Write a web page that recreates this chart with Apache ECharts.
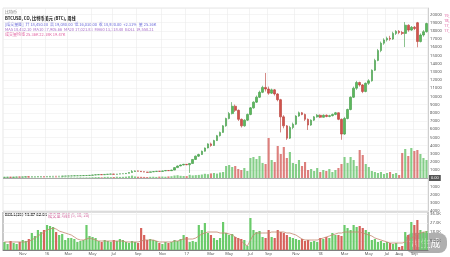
<!DOCTYPE html>
<html><head><meta charset="utf-8">
<script src="https://cdn.jsdelivr.net/npm/echarts@6/dist/echarts.min.js"></script>
<style>html,body{margin:0;padding:0;background:#fff}#c{width:450px;height:257px}</style>
</head><body><div id="c"></div>
<script>
// [open, close, low, high]
const ohlc = [
[110,120,100,130],[120,128,112,135],[128,122,115,134],[122,140,118,146],[140,150,135,158],
[150,145,138,156],[145,160,140,166],[160,172,155,178],[172,165,158,176],[165,182,160,188],
[182,190,176,196],[190,202,185,208],[202,210,196,216],[210,204,198,214],[204,222,200,228],
[222,232,215,238],[232,240,226,248],[240,236,228,246],[236,252,232,258],[252,262,246,270],
[262,270,255,278],[270,282,264,290],[282,290,275,298],[290,300,284,310],[300,312,294,320],
[312,320,305,330],[320,332,312,340],[332,340,325,352],[340,360,334,370],[360,400,350,420],
[400,420,390,440],[420,450,410,470],[450,430,415,460],[430,470,425,490],[470,500,460,520],
[500,520,490,540],[520,480,470,530],[480,510,470,525],[510,540,500,560],[540,560,530,580],
[560,600,550,640],[600,700,590,740],[700,820,690,1000],[820,900,800,960],[900,860,840,930],
[860,800,780,880],[800,760,740,820],[760,720,700,780],[720,780,700,800],[780,820,760,850],
[820,860,800,890],[860,840,820,880],[840,900,830,930],[900,950,880,980],[950,920,900,970],
[920,1000,910,1040],[1000,1300,980,1340],[1300,1500,1280,1560],[1500,1620,1470,1680],[1620,1700,1580,1760],
[1700,1650,1600,1740],[1650,1800,650,1850],[1800,2300,1780,2350],[2300,2700,2250,2780],[2700,2900,2600,3000],
[2900,3300,2850,3380],[3300,3700,3250,3760],[3700,4200,3650,4280],[4200,4000,3850,4350],[4000,4600,3950,4700],
[4600,5200,4550,5300],[5200,5600,5100,5700],[5600,6400,5550,6500],[6400,7300,6300,7400],[7300,7900,7200,8100],
[7900,8800,7800,9300],[8800,8300,8100,9000],[8300,7200,7000,8400],[7200,6400,6200,7300],[6400,7100,6300,7200],
[7100,7800,7000,7900],[7800,8600,7700,8700],[8600,9300,8500,9400],[9300,9900,9200,10100],[9900,10500,9800,10700],
[10500,11100,10400,11300],[11100,10900,10600,12860],[10900,10400,10200,11200],[10400,10800,10300,10950],[10800,10300,10100,10900],
[10300,9600,9400,10400],[9600,7500,5600,9700],[7500,6400,6100,7700],[6400,4900,4680,6500],[4900,6200,4800,6400],
[6200,6600,6000,6800],[6600,7600,6500,7700],[7600,8000,7500,8150],[8000,7800,7700,8100],[7800,7200,7000,7900],
[7200,6500,5900,7300],[6500,7100,6400,7200],[7100,7500,7000,7600],[7500,7700,7400,7850],[7700,7450,7350,7800],
[7450,7700,7400,7800],[7700,7550,7450,7800],[7550,7650,7450,7750],[7650,7800,7550,7900],[7800,8000,7700,8100],
[8000,7200,7100,8050],[7200,5400,4700,7300],[5400,7300,5300,7500],[7300,8400,7200,8500],[8400,9900,8300,10000],
[9900,11000,9800,11200],[11000,11700,10800,11900],[11700,11400,11200,11800],[11400,10600,10400,11500],[10600,11600,10500,11700],
[11600,11900,11400,12100],[11900,13200,11800,13300],[13200,14400,13100,14600],[14400,15600,14300,15800],[15600,16500,15400,16700],
[16500,16900,16300,17100],[16900,17100,16700,17300],[17100,17000,16800,17400],[17000,17700,16900,17900],[17700,17950,17500,18100],
[17950,17800,17600,18100],[17800,17700,17500,18000],[17700,18700,16030,19080],[18700,18100,17900,18800],[18100,18450,18000,18600],
[18450,18300,18100,18600],[19000,16700,16000,19100],[16700,17500,16600,17700],[17500,17900,17300,18100],[17900,18900,17800,19000]
];
const mainVolume = [
0.2,0.3,0.2,0.3,0.3,0.2,0.3,0.4,0.3,0.3,0.4,0.3,0.4,0.4,0.3,0.4,0.5,0.4,0.4,0.5,0.4,0.5,0.5,0.4,0.5,0.6,0.5,0.6,0.6,
0.8,0.9,1.0,0.7,1.1,1.2,0.9,1.0,1.3,1.1,1.2,1.4,1.8,2.4,1.6,1.3,1.2,
1.1,1.0,1.2,1.3,1.1,1.4,1.5,1.3,1.6,1.8,2.5,2.8,2.2,2.0,1.9,3.2,2.6,2.9,3.1,
3.5,4.2,3.8,4.6,5.0,4.4,5.5,6.0,
12,13,11,12, 9,8,10,7, 20,21,19,22, 15,14, 40, 18,16,
32,24,31,20,26,15,14,18,12,16,
8,9,7,10,6,8,7,9,6,8,10,
14,21,15,21,18,12,28,23,14,11,
7,6,5,6,4,5,6,4,5,3,
25,29,22,30,27,28,24,20,18
];
const subBars = [
8,6,9,7,6,8,10,9,11,17,14,20,18,20,25,24,23,18,15,16,10,12,12,11,8,9,10,25,14,13,12,
9,8,10,9,8,10,9,11,10,8,7,9,8,7,22,15,10,11,10,9,7,6,8,7,8,10,9,11,15,13,8,9,8,
25,20,27,17,15,12,10,12,28,17,15,16,13,12,11,10,4,32,20,18,19,13,12,20,13,12,20,18,17,15,
13,12,11,10,11,9,10,8,9,8,12,11,13,12,17,15,15,14,25,22,20,25,23,24,22,20,18,10,11,
8,9,7,8,7,6,7,3,4,18,15,28,25,30,20,18,19
];
const subLine = [
8,8,8,8,8,8,8,8,9, 10,12,14,16, 18,20,21,22, 21,19,18,17, 16,15,13,11,10, 10,11,12,11,10,
9,9,9,9,9,9,9,9,9,8,8,8,8,8,9, 10,10,10,10,9, 8,8,8,8,8,9,9,10,11,11, 11,11,12,14,16,
17,18,18,18,18,17,17, 17,16,15,13,11,9,6,4, 10,15,17,17, 17,17,17,18,18,18,18,18,17,17,16,
15,13,11,10,10,10,10,10, 11,12,13,14,15,16,17, 17,18,18,18,18,18,18,17,16,15,
14,12,11,10,9,8,7,7,7,7, 7,8,10,12,14,16,17,18,18
];
const tickIndex = [6,14,21,29,36,44,52,60,68,74,81,87,96,104,112,120,126,130,135];
const tickLabels = ['Nov','16','Mar','May','Jul','Sep','Nov','17','Mar','May','Jul','Sep','Nov','18','Mar','May','Jul','Aug','Sep'];
const priceTags = [8340, 7970, 7600];
const priceTagText = ['8,342.10','7,968.55','7,601.20'];
const subTicks = ['9.00K','18.0K','27.0K','36.0K'];

const cats = ohlc.map((d, i) => String(i));
const isUp = i => ohlc[i][1] >= ohlc[i][0];
const showTick = idx => tickIndex.indexOf(idx) >= 0;

const chart = echarts.init(document.getElementById('c'));
const tagColors = ['#2f7d3a', '#8d8d8d', '#a3a3a3'];
chart.setOption({
  animation: false,
  backgroundColor: '#fff',
  grid: [
    {left: 3, right: 22, top: 8, height: 203, show: true, borderColor: '#d6d6d6', borderWidth: 0.6},
    {left: 3, right: 22, top: 212, height: 38, show: true, borderColor: '#777', borderWidth: 0.8}
  ],
  xAxis: [
    {type: 'category', gridIndex: 0, data: cats, axisLine: {show: false}, axisTick: {show: false},
     axisLabel: {show: false}, splitLine: {show: true, interval: (i) => showTick(i), lineStyle: {color: '#ebebeb', width: 0.6}}},
    {type: 'category', gridIndex: 1, data: cats, axisLine: {lineStyle: {color: '#666', width: 0.8}}, axisTick: {show: false},
     axisLabel: {interval: (i) => showTick(i), formatter: (v) => tickLabels[tickIndex.indexOf(Number(v))] || '',
       fontSize: 4, color: '#555', margin: 2, fontFamily: 'Noto Sans'},
     splitLine: {show: true, interval: (i) => showTick(i), lineStyle: {color: '#ebebeb', width: 0.6}}}
  ],
  yAxis: [
    {type: 'value', gridIndex: 0, position: 'right', min: -4000, max: 20800, interval: 1000, scale: false,
     axisLine: {show: true, lineStyle: {color: '#bbb', width: 0.6}}, axisTick: {show: false},
     axisLabel: {fontSize: 4.2, color: '#555', margin: 2, showMaxLabel: false, fontFamily: 'Noto Sans',
       formatter: v => String(Math.abs(v))},
     splitLine: {lineStyle: {color: '#efefef', width: 0.6}}},
    {type: 'value', gridIndex: 0, min: -33, max: 170, show: false, splitLine: {show: false}},
    {type: 'value', gridIndex: 1, position: 'right', min: 0, max: 38, interval: 9,
     axisLine: {show: true, lineStyle: {color: '#bbb', width: 0.6}}, axisTick: {show: false},
     axisLabel: {fontSize: 4.2, color: '#555', margin: 2, fontFamily: 'Noto Sans', showMinLabel: false, showMaxLabel: false,
       formatter: v => subTicks[Math.round(v / 9) - 1] || ''},
     splitLine: {lineStyle: {color: '#efefef', width: 0.6}}}
  ],
  series: [
    {type: 'bar', xAxisIndex: 0, yAxisIndex: 1, data: mainVolume, barWidth: '70%',
     itemStyle: {color: p => isUp(p.dataIndex) ? 'rgba(92,190,96,0.75)' : 'rgba(212,96,92,0.8)'},
     markLine: {silent: true, symbol: 'none', data: [{yAxis: 0}],
       lineStyle: {color: '#8a8a8a', width: 0.7, type: 'solid'},
       label: {position: 'end', formatter: '0.00', fontSize: 4, color: '#fff', backgroundColor: '#555', padding: [1, 2], distance: 1}}},
    {type: 'candlestick', xAxisIndex: 0, yAxisIndex: 0, data: ohlc, barWidth: '70%',
     itemStyle: {color: '#5cb85c', color0: '#d0534c', borderColor: '#3f9a44', borderColor0: '#b83c35', borderWidth: 0.6},
     markLine: {silent: true, symbol: 'none',
       data: priceTags.map((v, k) => ({yAxis: v, label: {formatter: priceTagText[k], backgroundColor: tagColors[k]}})),
       lineStyle: {opacity: 0},
       label: {position: 'end', fontSize: 4, color: '#fff', padding: [1, 2], distance: 1}}},
    {type: 'bar', xAxisIndex: 1, yAxisIndex: 2, data: subBars, barWidth: '72%',
     itemStyle: {color: p => isUp(p.dataIndex) ? '#6acb6a' : '#d6625c'}},
    {type: 'line', xAxisIndex: 1, yAxisIndex: 2, data: subLine, symbol: 'none',
     lineStyle: {color: '#c48870', width: 0.8}}
  ],
  graphic: [
    {type: 'text', left: 5, top: 10, style: {text: '比特币', fontSize: 4, fill: '#777', fontFamily: 'Noto Sans CJK SC'}},
    {type: 'text', left: 5, top: 16, style: {text: 'BTCUSD, CO, 比特币美元 (BTC), 周线', fontSize: 4.2, fontWeight: 'bold', fill: '#111', fontFamily: 'Noto Sans CJK SC'}},
    {type: 'text', left: 5, top: 22, style: {text: '[成交量图]  开 18,450.00  高 19,080.00  低 16,030.00  收 18,920.00  +2.31%  量 25.36K', fontSize: 4, fill: '#6a6ad8', fontFamily: 'Noto Sans CJK SC'}},
    {type: 'text', left: 5, top: 27, style: {text: 'MA5 18,432.10  MA10 17,905.66  MA20 17,021.83  MA60 13,118.40  BOLL 19,550.21', fontSize: 4, fill: '#a66cc8', fontFamily: 'Noto Sans CJK SC'}},
    {type: 'text', left: 5, top: 32, style: {text: '成交量均线 25.36K 22.18K 19.47K', fontSize: 4, fill: '#e0609f', fontFamily: 'Noto Sans CJK SC'}},
    {type: 'text', left: 5, top: 213, style: {text: 'BOLL(20) 13.87 62.05', fontSize: 4.2, fontWeight: 'bold', fill: '#222', fontFamily: 'Noto Sans'}},
    {type: 'text', left: 48, top: 213, style: {text: '成交量 均线 (5, 10, 20)', fontSize: 4.2, fill: '#d0609a', fontFamily: 'Noto Sans CJK SC'}},
    {type: 'text', left: 444, top: 13, style: {text: '19,0\n18,4\n17,9\n17,0', fontSize: 4, lineHeight: 5, fill: '#e0609f', fontFamily: 'Noto Sans'}},
    {type: 'group', left: 405, top: 233, children: [
      {type: 'rect', shape: {x: 0, y: 0, width: 42, height: 20, r: 8}, style: {fill: 'rgba(110,110,110,0.55)'}},
      {type: 'text', x: 21, y: 10, style: {text: 'AI生成', fontSize: 10, fill: 'rgba(255,255,255,0.95)', align: 'center', verticalAlign: 'middle', fontFamily: 'Noto Sans CJK SC'}}
    ]}
  ]
});
</script></body></html>
